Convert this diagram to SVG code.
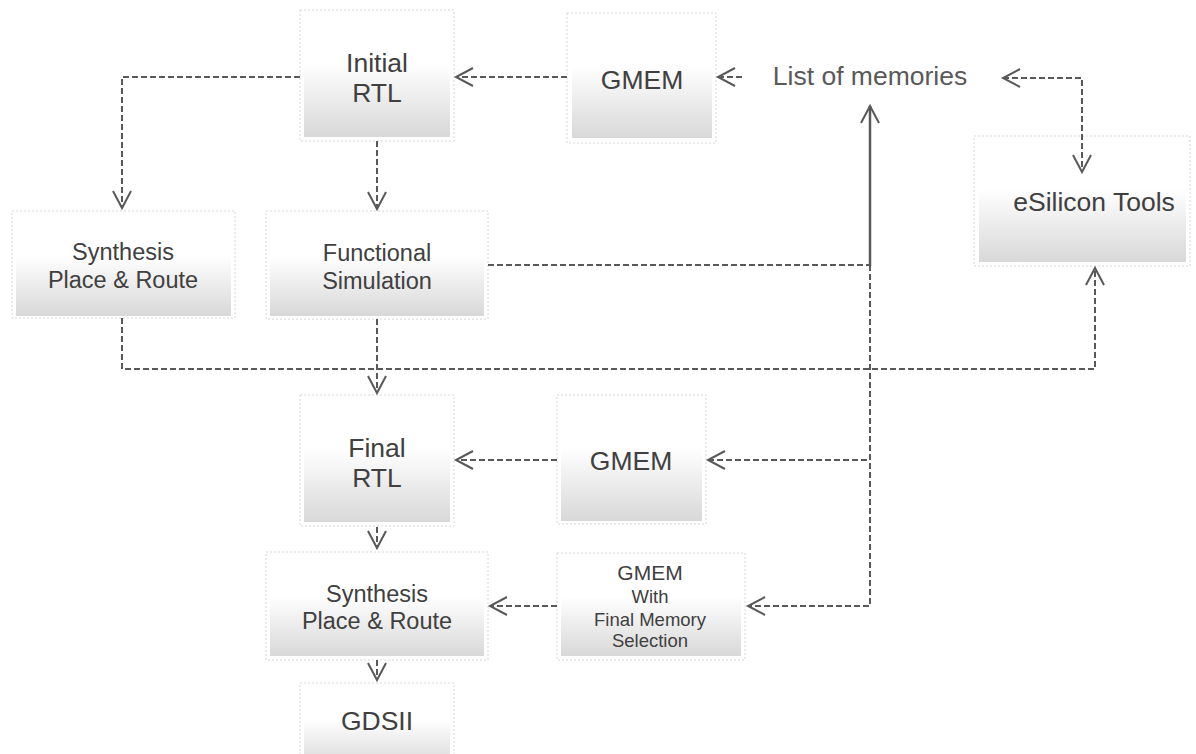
<svg xmlns="http://www.w3.org/2000/svg" width="1196" height="754" viewBox="0 0 1196 754">
<defs>
<linearGradient id="g" x1="0" y1="0" x2="0" y2="1">
<stop offset="0" stop-color="#ffffff"/>
<stop offset="0.4" stop-color="#ffffff"/>
<stop offset="1" stop-color="#d8d8d8"/>
</linearGradient>
<marker id="a" markerUnits="userSpaceOnUse" markerWidth="24" markerHeight="24" viewBox="-20 -12 24 24" refX="0" refY="0" orient="auto-start-reverse" overflow="visible">
<path d="M-17,-9 L0,0 L-17,9" fill="none" stroke="#595959" stroke-width="2"/>
</marker>
<style>
.o{fill:#ffffff;stroke:#d6d6d6;stroke-width:1;stroke-dasharray:2,2}
.i{fill:url(#g)}
.t{font-family:"Liberation Sans",Arial,sans-serif;fill:#404040;text-anchor:middle}
.c{fill:none;stroke:#595959;stroke-width:2;stroke-dasharray:6,3}
.s{fill:none;stroke:#595959;stroke-width:2.5}
</style>
</defs>
<g id="initial-rtl">
<rect class="o" x="300" y="10" width="154" height="131"/>
<rect class="i" x="304" y="14" width="146" height="123"/>
<text class="t" x="377" y="72" font-size="26.5">Initial</text>
<text class="t" x="377" y="102" font-size="26.5">RTL</text>
</g>
<g id="gmem-top">
<rect class="o" x="567" y="13" width="149" height="130"/>
<rect class="i" x="572" y="17" width="140" height="121"/>
<text class="t" x="642" y="89" font-size="26.5">GMEM</text>
</g>
<g id="list-of-memories">
<text class="t" x="870" y="85" font-size="26.5" style="fill:#595959">List of memories</text>
</g>
<g id="esilicon-tools">
<rect class="o" x="974" y="136" width="216" height="130"/>
<rect class="i" x="979" y="140" width="207" height="122"/>
<text class="t" x="1094" y="211" font-size="26.5">eSilicon Tools</text>
</g>
<g id="synthesis-1">
<rect class="o" x="12" y="211" width="223" height="107"/>
<rect class="i" x="16" y="215" width="215" height="101"/>
<text class="t" x="123" y="260" font-size="23.5">Synthesis</text>
<text class="t" x="123" y="288" font-size="23.5">Place &amp; Route</text>
</g>
<g id="functional-simulation">
<rect class="o" x="266" y="211" width="222" height="108"/>
<rect class="i" x="270" y="215" width="214" height="101"/>
<text class="t" x="377" y="261" font-size="23.5">Functional</text>
<text class="t" x="377" y="289" font-size="23.5">Simulation</text>
</g>
<g id="final-rtl">
<rect class="o" x="300" y="395" width="154" height="131"/>
<rect class="i" x="304" y="399" width="146" height="123"/>
<text class="t" x="377" y="457" font-size="26.5">Final</text>
<text class="t" x="377" y="487" font-size="26.5">RTL</text>
</g>
<g id="gmem-final">
<rect class="o" x="557" y="395" width="149" height="129"/>
<rect class="i" x="561" y="399" width="141" height="122"/>
<text class="t" x="631" y="470" font-size="26.5">GMEM</text>
</g>
<g id="gmem-with">
<rect class="o" x="557" y="553" width="188" height="107"/>
<rect class="i" x="561" y="557" width="180" height="99"/>
<text class="t" x="650" y="580" font-size="21">GMEM</text>
<text class="t" x="650" y="603" font-size="18.5">With</text>
<text class="t" x="650" y="626" font-size="18.5">Final Memory</text>
<text class="t" x="650" y="647" font-size="18.5">Selection</text>
</g>
<g id="synthesis-2">
<rect class="o" x="266" y="552" width="222" height="108"/>
<rect class="i" x="270" y="556" width="214" height="100"/>
<text class="t" x="377" y="602" font-size="23.5">Synthesis</text>
<text class="t" x="377" y="629" font-size="23.5">Place &amp; Route</text>
</g>
<g id="gdsii">
<rect class="o" x="300" y="683" width="154" height="80"/>
<rect class="i" x="304" y="687" width="146" height="80"/>
<text class="t" x="377" y="730" font-size="26.5">GDSII</text>
</g>
<g id="connectors">
<path class="c" d="M567,77 H456" marker-end="url(#a)"/>
<path class="c" d="M742,77 H718" marker-end="url(#a)"/>
<path class="c" d="M1003,78 H1082 V172" marker-start="url(#a)" marker-end="url(#a)"/>
<path class="c" d="M300,77 H122 V208" marker-end="url(#a)"/>
<path class="c" d="M377,141 V209" marker-end="url(#a)"/>
<path class="c" d="M488,265 H870"/>
<path class="s" d="M870,266 V106" marker-end="url(#a)"/>
<path class="c" d="M870,265 V460 H708" marker-end="url(#a)"/>
<path class="c" d="M870,265 V606 H748" marker-end="url(#a)"/>
<path class="c" d="M122,318 V369 H1095 V268" marker-end="url(#a)"/>
<path class="c" d="M377,319 V393" marker-end="url(#a)"/>
<path class="c" d="M557,460 H456" marker-end="url(#a)"/>
<path class="c" d="M377,527 V548" marker-end="url(#a)"/>
<path class="c" d="M557,606 H490" marker-end="url(#a)"/>
<path class="c" d="M377,660 V680" marker-end="url(#a)"/>
</g>
</svg>
